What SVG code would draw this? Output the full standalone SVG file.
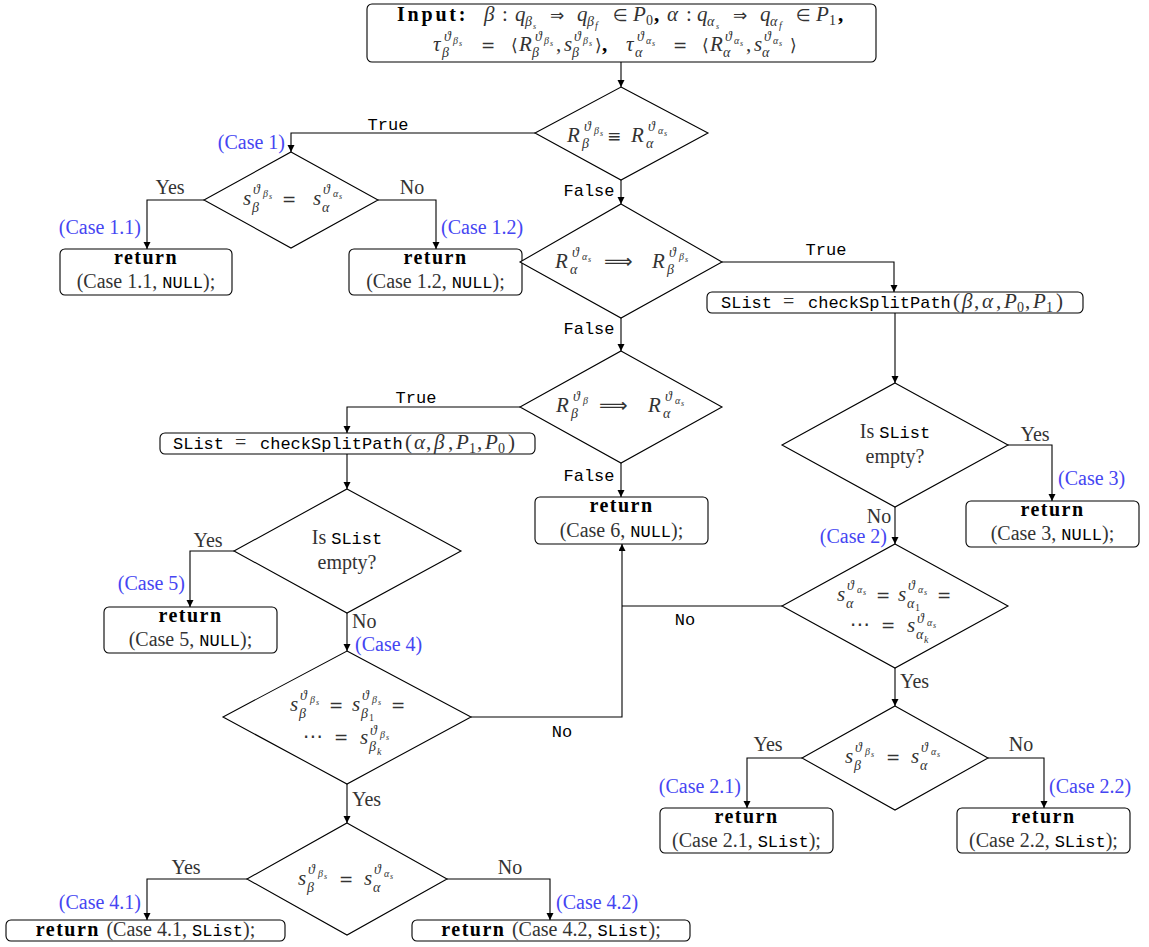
<svg xmlns="http://www.w3.org/2000/svg" width="1149" height="947" viewBox="0 0 1149 947">
<defs>
<marker id="ah" markerWidth="8" markerHeight="8" refX="7" refY="3.5" orient="auto" markerUnits="userSpaceOnUse"><path d="M0,0 L7,3.5 L0,7 z" fill="#000"/></marker>
<style>
.ln{fill:none;stroke:#000;stroke-width:1.1}
.arr{marker-end:url(#ah)}
.shape{fill:#fff;stroke:#000;stroke-width:1.1}
.m{font-family:"Liberation Serif","DejaVu Serif",serif;font-style:italic;font-size:21px;fill:#333}
.s1{font-size:14px}
.s2{font-size:10px}
.s3{font-size:8px}
.up{font-style:normal}
.op{font-family:"DejaVu Sans","DejaVu Serif",sans-serif;font-style:normal;font-size:17px}
.big{font-size:20px}
.bc{font-style:normal;font-weight:bold;fill:#000}
.rm{font-family:"Liberation Serif","DejaVu Serif",serif;font-size:20px;fill:#333}
.bf{font-family:"Liberation Serif","DejaVu Serif",serif;font-size:20px;font-weight:bold;fill:#000;letter-spacing:1.5px}
.tt{font-family:"Liberation Mono","DejaVu Sans Mono",monospace;font-size:17px;fill:#000}
.blue{font-family:"Liberation Serif","DejaVu Serif",serif;font-size:20px;fill:#4545f2}
.mid{text-anchor:middle}
.end{text-anchor:end}
</style>
</defs>
<rect width="1149" height="947" fill="#fff"/>

<!-- connectors -->
<g id="connectors">
<path class="ln arr" d="M621,62 V87"/>
<path class="ln arr" d="M535,133 H291 V152"/>
<path class="ln arr" d="M621,180 V204"/>
<path class="ln arr" d="M204,200 H147 V249"/>
<path class="ln arr" d="M378,200 H436 V249"/>
<path class="ln arr" d="M722,262 H894 V292"/>
<path class="ln arr" d="M621,318 V351"/>
<path class="ln arr" d="M895,313 V383"/>
<path class="ln arr" d="M520,407 H347 V433"/>
<path class="ln arr" d="M621,463 V497"/>
<path class="ln arr" d="M347,454 V489"/>
<path class="ln arr" d="M234,551 H190 V607"/>
<path class="ln arr" d="M347,613 V651"/>
<path class="ln arr" d="M471,717 H622 V544"/>
<path class="ln" d="M782,606 H622"/>
<path class="ln arr" d="M347,784 V823"/>
<path class="ln arr" d="M247,879 H147 V920"/>
<path class="ln arr" d="M447,879 H550 V920"/>
<path class="ln arr" d="M1008,445 H1052 V501"/>
<path class="ln arr" d="M895,507 V544"/>
<path class="ln arr" d="M895,668 V706"/>
<path class="ln arr" d="M802,758 H747 V808"/>
<path class="ln arr" d="M988,758 H1044 V808"/>
</g>

<!-- edge labels -->
<g id="edge-labels">
<text class="tt mid" x="388" y="130">True</text>
<text class="tt mid" x="589" y="196">False</text>
<text class="tt mid" x="826" y="255">True</text>
<text class="tt mid" x="589" y="334">False</text>
<text class="tt mid" x="416" y="403">True</text>
<text class="tt mid" x="589" y="481">False</text>
<text class="tt mid" x="562" y="737">No</text>
<text class="tt mid" x="685" y="625">No</text>
<text class="rm mid" x="170" y="194">Yes</text>
<text class="rm mid" x="412" y="194">No</text>
<text class="rm mid" x="208" y="547">Yes</text>
<text class="rm" x="352" y="628">No</text>
<text class="rm" x="352" y="806">Yes</text>
<text class="rm mid" x="186" y="874">Yes</text>
<text class="rm mid" x="510" y="874">No</text>
<text class="rm mid" x="1035" y="441">Yes</text>
<text class="rm mid" x="879" y="523">No</text>
<text class="rm" x="900" y="688">Yes</text>
<text class="rm mid" x="768" y="751">Yes</text>
<text class="rm mid" x="1021" y="751">No</text>
<text class="blue end" x="285" y="149">(Case 1)</text>
<text class="blue end" x="141" y="234">(Case 1.1)</text>
<text class="blue" x="441" y="234">(Case 1.2)</text>
<text class="blue" x="1058" y="485">(Case 3)</text>
<text class="blue end" x="887" y="543">(Case 2)</text>
<text class="blue end" x="185" y="590">(Case 5)</text>
<text class="blue" x="355" y="651">(Case 4)</text>
<text class="blue end" x="741" y="793">(Case 2.1)</text>
<text class="blue" x="1049" y="793">(Case 2.2)</text>
<text class="blue end" x="141" y="909">(Case 4.1)</text>
<text class="blue" x="556" y="909">(Case 4.2)</text>
</g>

<!-- input -->
<g id="input">
<rect class="shape" x="367" y="4" width="509" height="58" rx="5"/>
<text class="bf" x="397" y="21" textLength="70" lengthAdjust="spacing">Input:</text>
<text class="m">
<tspan x="484" y="21">β</tspan><tspan class="up" x="502" y="21">:</tspan>
<tspan x="515" y="21">q</tspan><tspan class="s1" x="525" y="26">β</tspan><tspan class="s3" x="533" y="29">s</tspan>
<tspan class="op" x="550" y="21">⇒</tspan>
<tspan x="577" y="21">q</tspan><tspan class="s1" x="587" y="26">β</tspan><tspan class="s2" x="595" y="29">f</tspan>
<tspan class="op" x="613" y="21">∈</tspan>
<tspan x="633" y="21">P</tspan><tspan class="s1 up" x="646" y="25">0</tspan><tspan class="bc" x="654" y="21">,</tspan>
<tspan x="667" y="21">α</tspan><tspan class="up" x="686" y="21">:</tspan>
<tspan x="697" y="21">q</tspan><tspan class="s1" x="707" y="26">α</tspan><tspan class="s3" x="716" y="29">s</tspan>
<tspan class="op" x="733" y="21">⇒</tspan>
<tspan x="760" y="21">q</tspan><tspan class="s1" x="770" y="26">α</tspan><tspan class="s2" x="779" y="29">f</tspan>
<tspan class="op" x="796" y="21">∈</tspan>
<tspan x="816" y="21">P</tspan><tspan class="s1 up" x="829" y="25">1</tspan><tspan class="bc" x="838" y="21">,</tspan>
</text>
<text class="m">
<tspan x="433" y="51">τ</tspan><tspan class="s1" x="442" y="57">β</tspan><tspan class="s1" x="444" y="41">ϑ</tspan><tspan class="s2" x="453" y="44">β</tspan><tspan class="s3" x="459" y="46">s</tspan>
<tspan class="op" x="481" y="51">=</tspan>
<tspan class="op" x="511" y="51">⟨</tspan>
<tspan x="519" y="51">R</tspan><tspan class="s1" x="532" y="57">β</tspan><tspan class="s1" x="535" y="41">ϑ</tspan><tspan class="s2" x="544" y="44">β</tspan><tspan class="s3" x="550" y="46">s</tspan>
<tspan class="up" x="556" y="51">,</tspan>
<tspan x="564" y="51">s</tspan><tspan class="s1" x="572" y="57">β</tspan><tspan class="s1" x="574" y="41">ϑ</tspan><tspan class="s2" x="583" y="44">β</tspan><tspan class="s3" x="589" y="46">s</tspan>
<tspan class="op" x="595" y="51">⟩</tspan><tspan class="bc" x="602" y="51">,</tspan>
<tspan x="626" y="51">τ</tspan><tspan class="s1" x="635" y="57">α</tspan><tspan class="s1" x="637" y="41">ϑ</tspan><tspan class="s2" x="646" y="44">α</tspan><tspan class="s3" x="652" y="46">s</tspan>
<tspan class="op" x="673" y="51">=</tspan>
<tspan class="op" x="702" y="51">⟨</tspan>
<tspan x="710" y="51">R</tspan><tspan class="s1" x="723" y="57">α</tspan><tspan class="s1" x="725" y="41">ϑ</tspan><tspan class="s2" x="734" y="44">α</tspan><tspan class="s3" x="740" y="46">s</tspan>
<tspan class="up" x="746" y="51">,</tspan>
<tspan x="754" y="51">s</tspan><tspan class="s1" x="762" y="57">α</tspan><tspan class="s1" x="764" y="41">ϑ</tspan><tspan class="s2" x="773" y="44">α</tspan><tspan class="s3" x="779" y="46">s</tspan>
<tspan class="op" x="790" y="51">⟩</tspan>
</text>
</g>

<!-- R equality test -->
<g id="test-r-equal">
<polygon class="shape" points="621,87 708,133 621,180 535,133"/>
<text class="m">
<tspan x="567" y="142">R</tspan><tspan class="s1" x="582" y="148">β</tspan><tspan class="s1" x="584" y="131">ϑ</tspan><tspan class="s2" x="594" y="134">β</tspan><tspan class="s3" x="600" y="136">s</tspan>
<tspan class="op" x="607" y="142">≡</tspan>
<tspan x="631" y="142">R</tspan><tspan class="s1" x="646" y="148">α</tspan><tspan class="s1" x="648" y="131">ϑ</tspan><tspan class="s2" x="658" y="134">α</tspan><tspan class="s3" x="664" y="136">s</tspan>
</text>
</g>

<g id="test-s-equal-1">
<polygon class="shape" points="291,152 378,200 291,248 204,200"/>
<text class="m">
<tspan x="243" y="205">s</tspan><tspan class="s1" x="252" y="212">β</tspan><tspan class="s1" x="253" y="194">ϑ</tspan><tspan class="s2" x="263" y="197">β</tspan><tspan class="s3" x="269" y="199">s</tspan>
<tspan class="op" x="282" y="205">=</tspan>
<tspan x="313" y="205">s</tspan><tspan class="s1" x="322" y="212">α</tspan><tspan class="s1" x="323" y="194">ϑ</tspan><tspan class="s2" x="333" y="197">α</tspan><tspan class="s3" x="339" y="199">s</tspan>
</text>
</g>

<g id="ret-case-1-1">
<rect class="shape" x="60" y="249" width="172" height="46" rx="5"/>
<text class="bf mid" x="146" y="264">return</text>
<text class="mid" x="146" y="288"><tspan class="rm">(Case 1.1, </tspan><tspan class="tt">NULL</tspan><tspan class="rm">);</tspan></text>
</g>

<g id="ret-case-1-2">
<rect class="shape" x="349" y="249" width="173" height="46" rx="5"/>
<text class="bf mid" x="435.5" y="264">return</text>
<text class="mid" x="435.5" y="288"><tspan class="rm">(Case 1.2, </tspan><tspan class="tt">NULL</tspan><tspan class="rm">);</tspan></text>
</g>

<g id="test-r-alpha-implies-beta">
<polygon class="shape" points="621,204 722,262 621,318 520,262"/>
<text class="m">
<tspan x="555" y="268">R</tspan><tspan class="s1" x="570" y="274">α</tspan><tspan class="s1" x="572" y="257">ϑ</tspan><tspan class="s2" x="582" y="260">α</tspan><tspan class="s3" x="588" y="262">s</tspan>
<tspan class="op big" x="604" y="268">⟹</tspan>
<tspan x="652" y="268">R</tspan><tspan class="s1" x="667" y="274">β</tspan><tspan class="s1" x="669" y="257">ϑ</tspan><tspan class="s2" x="679" y="260">β</tspan><tspan class="s3" x="685" y="262">s</tspan>
</text>
</g>

<g id="split-beta-alpha">
<rect class="shape" x="707" y="292" width="376" height="21" rx="5"/>
<text class="tt" x="721" y="308">SList</text>
<text class="rm" x="783" y="308">=</text>
<text class="tt" x="808" y="308">checkSplitPath</text>
<text class="m">
<tspan class="up" x="953" y="308">(</tspan><tspan x="962" y="308">β</tspan><tspan class="up" x="974" y="308">,</tspan>
<tspan x="982" y="308">α</tspan><tspan class="up" x="996" y="308">,</tspan>
<tspan x="1004" y="308">P</tspan><tspan class="s1 up" x="1017" y="312">0</tspan><tspan class="up" x="1025" y="308">,</tspan>
<tspan x="1033" y="308">P</tspan><tspan class="s1 up" x="1046" y="312">1</tspan><tspan class="up" x="1056" y="308">)</tspan>
</text>
</g>

<g id="test-r-beta-implies-alpha">
<polygon class="shape" points="621,351 722,407 621,463 520,407"/>
<text class="m">
<tspan x="556" y="412">R</tspan><tspan class="s1" x="571" y="418">β</tspan><tspan class="s1" x="573" y="401">ϑ</tspan><tspan class="s2" x="583" y="404">β</tspan>
<tspan class="op big" x="599" y="412">⟹</tspan>
<tspan x="648" y="412">R</tspan><tspan class="s1" x="663" y="418">α</tspan><tspan class="s1" x="665" y="401">ϑ</tspan><tspan class="s2" x="675" y="404">α</tspan><tspan class="s3" x="681" y="406">s</tspan>
</text>
</g>

<g id="split-alpha-beta">
<rect class="shape" x="160" y="433" width="375" height="21" rx="5"/>
<text class="tt" x="173" y="449">SList</text>
<text class="rm" x="235" y="449">=</text>
<text class="tt" x="260" y="449">checkSplitPath</text>
<text class="m">
<tspan class="up" x="405" y="449">(</tspan><tspan x="414" y="449">α</tspan><tspan class="up" x="426" y="449">,</tspan>
<tspan x="434" y="449">β</tspan><tspan class="up" x="448" y="449">,</tspan>
<tspan x="456" y="449">P</tspan><tspan class="s1 up" x="469" y="453">1</tspan><tspan class="up" x="477" y="449">,</tspan>
<tspan x="485" y="449">P</tspan><tspan class="s1 up" x="498" y="453">0</tspan><tspan class="up" x="508" y="449">)</tspan>
</text>
</g>

<g id="ret-case-6">
<rect class="shape" x="535" y="497" width="173" height="47" rx="5"/>
<text class="bf mid" x="621.5" y="512">return</text>
<text class="mid" x="621.5" y="537"><tspan class="rm">(Case 6, </tspan><tspan class="tt">NULL</tspan><tspan class="rm">);</tspan></text>
</g>

<g id="test-empty-a">
<polygon class="shape" points="895,383 1008,445 895,507 782,445"/>
<text class="mid" x="895" y="438"><tspan class="rm">Is </tspan><tspan class="tt">SList</tspan></text>
<text class="rm mid" x="895" y="463">empty?</text>
</g>

<g id="ret-case-3">
<rect class="shape" x="966" y="501" width="173" height="46" rx="5"/>
<text class="bf mid" x="1052.5" y="516">return</text>
<text class="mid" x="1052.5" y="540"><tspan class="rm">(Case 3, </tspan><tspan class="tt">NULL</tspan><tspan class="rm">);</tspan></text>
</g>

<g id="test-empty-b">
<polygon class="shape" points="347,489 461,551 347,613 234,551"/>
<text class="mid" x="347" y="544"><tspan class="rm">Is </tspan><tspan class="tt">SList</tspan></text>
<text class="rm mid" x="347" y="569">empty?</text>
</g>

<g id="ret-case-5">
<rect class="shape" x="104" y="607" width="173" height="46" rx="5"/>
<text class="bf mid" x="190.5" y="622">return</text>
<text class="mid" x="190.5" y="646"><tspan class="rm">(Case 5, </tspan><tspan class="tt">NULL</tspan><tspan class="rm">);</tspan></text>
</g>

<g id="test-s-alpha-all">
<polygon class="shape" points="895,544 1008,606 895,668 782,606"/>
<text class="m">
<tspan x="837" y="601">s</tspan><tspan class="s1" x="846" y="608">α</tspan><tspan class="s2 up" x="915" y="611">1</tspan><tspan class="s1" x="847" y="590">ϑ</tspan><tspan class="s2" x="857" y="593">α</tspan><tspan class="s3" x="863" y="595">s</tspan>
<tspan class="op" x="876" y="601">=</tspan>
<tspan x="898" y="601">s</tspan><tspan class="s1" x="907" y="608">α</tspan><tspan class="s1" x="908" y="590">ϑ</tspan><tspan class="s2" x="918" y="593">α</tspan><tspan class="s3" x="924" y="595">s</tspan>
<tspan class="op" x="937" y="601">=</tspan>
</text>
<text class="m">
<tspan class="op big" x="850" y="631">⋯</tspan>
<tspan class="op" x="881" y="631">=</tspan>
<tspan x="907" y="632">s</tspan><tspan class="s1" x="916" y="639">α</tspan><tspan class="s2" x="924" y="643">k</tspan><tspan class="s1" x="917" y="623">ϑ</tspan><tspan class="s2" x="927" y="626">α</tspan><tspan class="s3" x="933" y="628">s</tspan>
</text>
</g>

<g id="test-s-beta-all">
<polygon class="shape" points="347,651 471,717 347,784 223,717"/>
<text class="m">
<tspan x="290" y="711">s</tspan><tspan class="s1" x="299" y="718">β</tspan><tspan class="s1" x="300" y="700">ϑ</tspan><tspan class="s2" x="310" y="703">β</tspan><tspan class="s3" x="316" y="705">s</tspan>
<tspan class="op" x="329" y="711">=</tspan>
<tspan x="352" y="711">s</tspan><tspan class="s1" x="361" y="718">β</tspan><tspan class="s2 up" x="369" y="721">1</tspan><tspan class="s1" x="362" y="700">ϑ</tspan><tspan class="s2" x="372" y="703">β</tspan><tspan class="s3" x="378" y="705">s</tspan>
<tspan class="op" x="391" y="711">=</tspan>
</text>
<text class="m">
<tspan class="op big" x="303" y="743">⋯</tspan>
<tspan class="op" x="334" y="743">=</tspan>
<tspan x="360" y="744">s</tspan><tspan class="s1" x="369" y="751">β</tspan><tspan class="s2" x="377" y="755">k</tspan><tspan class="s1" x="370" y="735">ϑ</tspan><tspan class="s2" x="380" y="738">β</tspan><tspan class="s3" x="386" y="740">s</tspan>
</text>
</g>

<g id="test-s-equal-4">
<polygon class="shape" points="347,823 447,879 347,935 247,879"/>
<text class="m">
<tspan x="298" y="885">s</tspan><tspan class="s1" x="307" y="892">β</tspan><tspan class="s1" x="308" y="874">ϑ</tspan><tspan class="s2" x="318" y="877">β</tspan><tspan class="s3" x="324" y="879">s</tspan>
<tspan class="op" x="339" y="885">=</tspan>
<tspan x="364" y="885">s</tspan><tspan class="s1" x="373" y="892">α</tspan><tspan class="s1" x="374" y="874">ϑ</tspan><tspan class="s2" x="384" y="877">α</tspan><tspan class="s3" x="390" y="879">s</tspan>
</text>
</g>

<g id="ret-case-4-1">
<rect class="shape" x="6" y="920" width="279" height="21" rx="5"/>
<text class="mid" x="145.5" y="936"><tspan class="bf">return </tspan><tspan class="rm">(Case 4.1, </tspan><tspan class="tt">SList</tspan><tspan class="rm">);</tspan></text>
</g>

<g id="ret-case-4-2">
<rect class="shape" x="412" y="920" width="278" height="21" rx="5"/>
<text class="mid" x="551" y="936"><tspan class="bf">return </tspan><tspan class="rm">(Case 4.2, </tspan><tspan class="tt">SList</tspan><tspan class="rm">);</tspan></text>
</g>

<g id="test-s-equal-2">
<polygon class="shape" points="895,706 988,758 895,810 802,758"/>
<text class="m">
<tspan x="845" y="763">s</tspan><tspan class="s1" x="854" y="770">β</tspan><tspan class="s1" x="855" y="752">ϑ</tspan><tspan class="s2" x="865" y="755">β</tspan><tspan class="s3" x="871" y="757">s</tspan>
<tspan class="op" x="886" y="763">=</tspan>
<tspan x="911" y="763">s</tspan><tspan class="s1" x="920" y="770">α</tspan><tspan class="s1" x="921" y="752">ϑ</tspan><tspan class="s2" x="931" y="755">α</tspan><tspan class="s3" x="937" y="757">s</tspan>
</text>
</g>

<g id="ret-case-2-1">
<rect class="shape" x="660" y="808" width="173" height="45" rx="5"/>
<text class="bf mid" x="746.5" y="823">return</text>
<text class="mid" x="746.5" y="847"><tspan class="rm">(Case 2.1, </tspan><tspan class="tt">SList</tspan><tspan class="rm">);</tspan></text>
</g>

<g id="ret-case-2-2">
<rect class="shape" x="957" y="808" width="173" height="45" rx="5"/>
<text class="bf mid" x="1043.5" y="823">return</text>
<text class="mid" x="1043.5" y="847"><tspan class="rm">(Case 2.2, </tspan><tspan class="tt">SList</tspan><tspan class="rm">);</tspan></text>
</g>
</svg>
